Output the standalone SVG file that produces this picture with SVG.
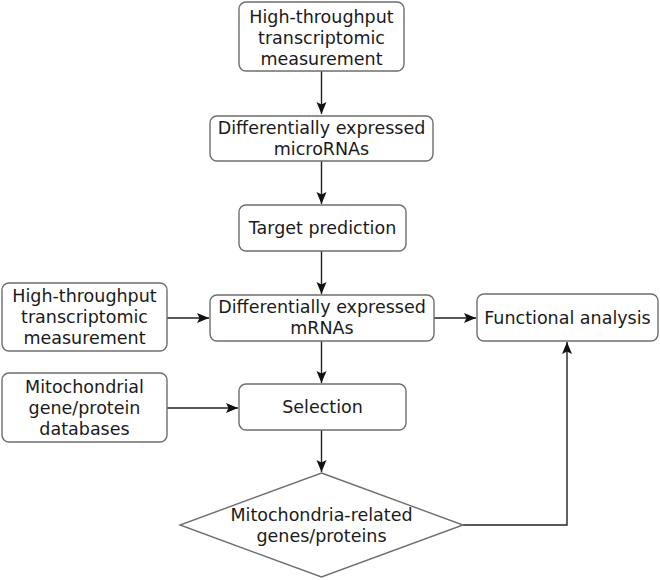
<svg xmlns="http://www.w3.org/2000/svg" width="660" height="580" viewBox="0 0 660 580">
<style>
.box{fill:#fff;stroke:#6e6e6e;stroke-width:1.4}
.t{font-family:"DejaVu Sans",Verdana,sans-serif;font-size:17.5px;fill:#1a1a1a;text-anchor:middle}
.c{fill:none;stroke:#222;stroke-width:1.4}
</style>
<defs>
<marker id="ah" markerUnits="userSpaceOnUse" markerWidth="14" markerHeight="12" refX="12" refY="5" orient="auto">
<path d="M0,0 L12,5 L0,10 L2.5,5 z" fill="#111"/>
</marker>
</defs>
<rect width="660" height="580" fill="#fff"/>
<g id="connectors">
<path class="c" d="M321.5,71 V114" marker-end="url(#ah)"/>
<path class="c" d="M321.5,161 V204" marker-end="url(#ah)"/>
<path class="c" d="M321.5,251 V294" marker-end="url(#ah)"/>
<path class="c" d="M167,318 H209" marker-end="url(#ah)"/>
<path class="c" d="M434,318 H476" marker-end="url(#ah)"/>
<path class="c" d="M321.5,341 V383" marker-end="url(#ah)"/>
<path class="c" d="M167,408 H238" marker-end="url(#ah)"/>
<path class="c" d="M321.5,430 V472" marker-end="url(#ah)"/>
<path class="c" d="M463,525 H567 V342" marker-end="url(#ah)"/>
</g>
<g id="n1">
<rect class="box" x="239" y="2" width="165" height="69" rx="7"/>
<text class="t" x="321.5" y="23">High-throughput</text>
<text class="t" x="321.5" y="44">transcriptomic</text>
<text class="t" x="321.5" y="65">measurement</text>
</g>
<g id="n2">
<rect class="box" x="210" y="116" width="223" height="45" rx="7"/>
<text class="t" x="321.5" y="134">Differentially expressed</text>
<text class="t" x="321.5" y="155">microRNAs</text>
</g>
<g id="n3">
<rect class="box" x="239" y="205" width="167" height="46" rx="7"/>
<text class="t" x="322.5" y="234">Target prediction</text>
</g>
<g id="n4">
<rect class="box" x="2" y="283" width="165" height="68" rx="7"/>
<text class="t" x="84.5" y="302">High-throughput</text>
<text class="t" x="84.5" y="323">transcriptomic</text>
<text class="t" x="84.5" y="344">measurement</text>
</g>
<g id="n5">
<rect class="box" x="210" y="295" width="224" height="46" rx="7"/>
<text class="t" x="322" y="313">Differentially expressed</text>
<text class="t" x="322" y="334">mRNAs</text>
</g>
<g id="n6">
<rect class="box" x="477" y="294" width="181" height="47" rx="7"/>
<text class="t" x="567.5" y="323.5">Functional analysis</text>
</g>
<g id="n7">
<rect class="box" x="2" y="373" width="165" height="69" rx="7"/>
<text class="t" x="84.5" y="392.5">Mitochondrial</text>
<text class="t" x="84.5" y="413.5">gene/protein</text>
<text class="t" x="84.5" y="434.5">databases</text>
</g>
<g id="n8">
<rect class="box" x="239" y="384" width="167" height="46" rx="7"/>
<text class="t" x="322.5" y="413">Selection</text>
</g>
<g id="n9">
<polygon class="box" points="321.5,473 463,525 321.5,577 180,525"/>
<text class="t" x="321.5" y="521">Mitochondria-related</text>
<text class="t" x="321.5" y="542">genes/proteins</text>
</g>
</svg>
